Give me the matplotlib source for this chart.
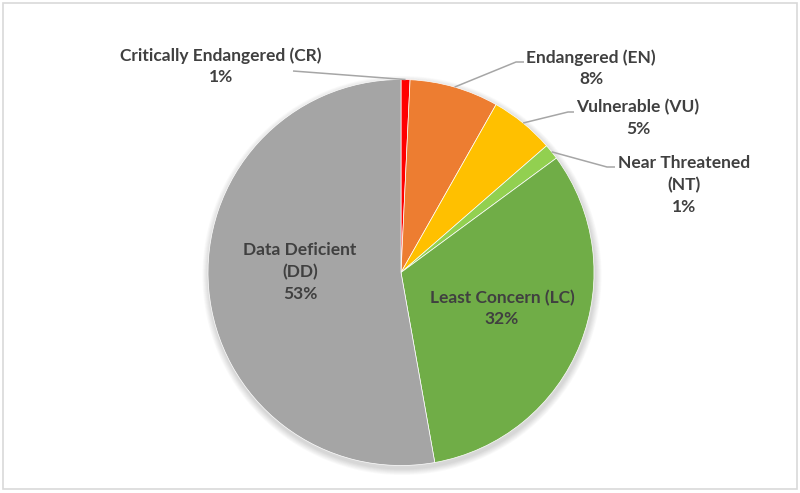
import numpy as np
import matplotlib.pyplot as plt
from matplotlib.patches import Circle, Rectangle

# IUCN categories, clockwise from 12 o'clock
categories = ["Critically Endangered (CR)", "Endangered (EN)", "Vulnerable (VU)",
              "Near Threatened\n(NT)", "Least Concern (LC)", "Data Deficient\n(DD)"]
shares = [0.75, 7.45, 5.4, 1.3, 32.3, 52.8]
pct_labels = ["1%", "8%", "5%", "1%", "32%", "53%"]
colors = ["#FF0000", "#ED7D31", "#FFC000", "#92D050", "#70AD47", "#A5A5A5"]

W, H = 800, 493
fig = plt.figure(figsize=(8, 4.93), dpi=100)
ax = fig.add_axes([0, 0, 1, 1])

def py(y):  # pixel row -> data y
    return H - y

cx, cy, r = 401, py(272.5), 193

# soft shadow under the pie
for k in range(8):
    ax.add_patch(Circle((cx + 1, cy - 3), r + 1 + k * 0.8, color="black",
                        alpha=0.018, lw=0, zorder=1))

wedges, _ = ax.pie(shares, colors=colors, startangle=90, counterclock=False,
                   center=(cx, cy), radius=r, frame=True,
                   wedgeprops=dict(linewidth=0.5, edgecolor="white"))
for w in wedges:
    w.set_zorder(2)
ax.set_xlim(0, W)
ax.set_ylim(0, H)
ax.set_aspect("equal")
ax.axis("off")

txt = dict(fontsize=12.5, fontweight="bold", color="#404040",
           family=["Lato", "DejaVu Sans"], ha="center", va="center",
           linespacing=1.42, zorder=5)

# outside labels with leader lines: (text centre, line bend, line end)
outside = {
    0: ((221, 66), None, (293, 71)),
    1: ((591, 68), (516, 62), (524, 62)),
    2: ((638, 118), (568, 112), (574, 112)),
    3: ((684, 185), (607, 167), (615, 167)),
}
for i, ((tx, ty), bend, end) in outside.items():
    w = wedges[i]
    mid = np.deg2rad((w.theta1 + w.theta2) / 2)
    sx, sy = cx + r * np.cos(mid), cy + r * np.sin(mid)
    pts = [(sx, sy)]
    if bend is not None:
        pts.append((bend[0], py(bend[1])))
    pts.append((end[0], py(end[1])))
    xs, ys = zip(*pts)
    ax.plot(xs, ys, color="#A6A6A6", lw=1.1, zorder=4, solid_capstyle="butt")
    ax.text(tx, py(ty), categories[i] + "\n" + pct_labels[i], **txt)

# inside labels
ax.text(300, py(272), categories[5] + "\n" + pct_labels[5], **txt)
ax.text(502, py(308.5), categories[4] + "\n" + pct_labels[4], **txt)

# chart frame
ax.add_patch(Rectangle((3, py(489)), 794, 486, fill=False,
                       edgecolor="#D9D9D9", lw=1.2, zorder=6))

fig.savefig("out.png", dpi=100, facecolor="white")
